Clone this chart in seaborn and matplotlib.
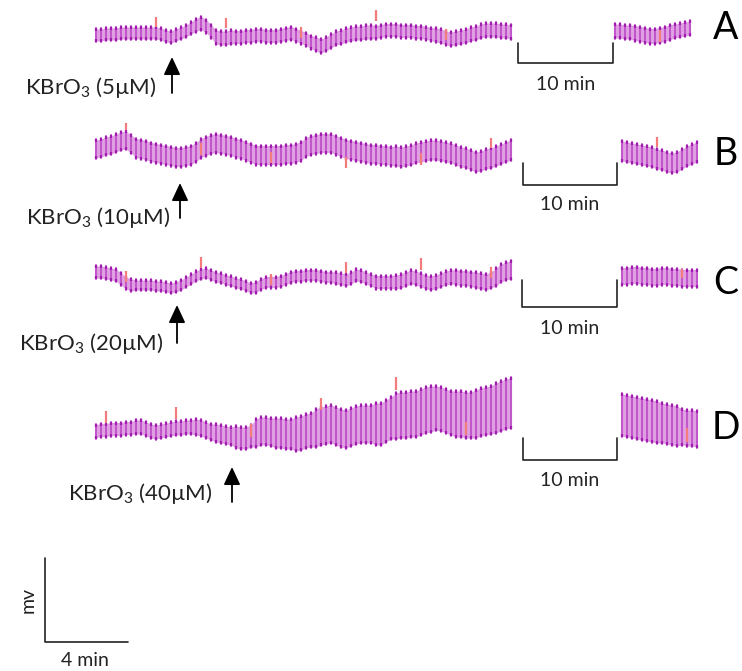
import numpy as np
import pandas as pd
import seaborn as sns
import matplotlib.pyplot as plt

# --- Readings ---
# one value per contraction (about 5 px apart), midline offset from the panel baseline, up = positive
panels = ["A", "B", "C", "D"]
doses = ["5µM", "10µM", "20µM", "40µM"]

a_main = [-1, -1, 0, 0, 0, 1, 1, 1, 1, 1, 1, 1,
          1, 0, -2, -3, -1, 1, 3, 6, 9, 11, 8, 3,
          -3, -4, -4, -3, -3, -3, -2, -2, -1, -1, -2, -2,
          -2, -1, 0, 1, -1, -3, -5, -8, -10, -12, -10, -7,
          -4, -3, -1, 0, 1, 1, 2, 2, 2, 3, 4, 4,
          4, 3, 3, 3, 2, 2, 1, 0, -1, -2, -4, -5,
          -4, -3, -2, 0, 1, 3, 4, 4, 4, 3, 3, 2]
a_after = [3, 3, 2, 2, 1, 0, -1, -2, -2, -1, 0, 2, 3, 4, 5, 6]

b_main = [1, 2, 4, 5, 7, 9, 10, 6, 2, 1, 0, -2,
          -3, -4, -5, -6, -7, -7, -6, -5, -2, 2, 4, 6,
          7, 6, 5, 4, 2, 1, -1, -3, -5, -5, -5, -5,
          -5, -5, -4, -4, -3, -1, 3, 5, 6, 7, 7, 7,
          5, 3, 1, 0, -1, -2, -3, -4, -4, -5, -5, -6,
          -6, -7, -6, -5, -3, -2, -1, 0, 0, -1, -2, -3,
          -5, -7, -8, -10, -12, -11, -9, -8, -6, -4, -2, 0]
b_after = [-1, -2, -3, -4, -5, -6, -7, -9, -10, -12, -13, -12, -9, -6, -4, -2]

c_main = [0, 0, -1, -2, -3, -7, -11, -13, -13, -13, -13, -13,
          -14, -14, -15, -16, -15, -13, -10, -7, -4, -2, -1, -3,
          -5, -6, -8, -9, -11, -12, -14, -16, -15, -12, -10, -10,
          -10, -9, -7, -5, -4, -4, -3, -3, -3, -4, -5, -5,
          -6, -7, -8, -6, -3, -4, -6, -8, -10, -10, -10, -10,
          -10, -9, -7, -5, -6, -8, -10, -11, -10, -8, -6, -5,
          -5, -6, -6, -7, -8, -9, -10, -8, -5, -1, 1, 2]
c_after = [-4, -4, -3, -3, -4, -4, -5, -5, -4, -4, -5, -5, -6, -6, -6, -6]

d_main = [-6, -5, -5, -4, -4, -4, -3, -3, -2, -2, -4, -6,
          -7, -6, -5, -4, -3, -3, -2, -2, -2, -3, -5, -7,
          -8, -9, -10, -11, -12, -13, -13, -11, -8, -6, -6, -7,
          -8, -8, -9, -9, -9, -8, -6, -5, -3, -1, 0, 1,
          -1, -3, -4, -2, 0, 1, 1, 1, 1, 1, 4, 7,
          9, 10, 10, 11, 11, 13, 15, 16, 17, 16, 14, 12,
          11, 11, 10, 10, 11, 13, 14, 15, 17, 19, 21, 22]
d_after = [10, 9, 8, 7, 6, 5, 4, 3, 2, 1, 0, -1, -2, -3, -3, -4]

# half amplitude of the contractions, one value per block of 4 contractions
a_amp = [7, 7, 7, 7, 7, 7.5, 8, 7.5, 7.5, 7.5, 7.5, 8, 8, 8, 7.5, 7.5, 7.5, 8, 8, 8, 8]
a_amp_after = [8, 8.5, 8.5, 8]
b_amp = [10, 10, 10.5, 10.5, 10.5, 10.5, 10.5, 10.5, 10.5, 10.5, 10.5,
         10.5, 10.5, 10.5, 10.5, 11, 11, 11, 11, 11, 11]
b_amp_after = [11, 11, 11, 11]
c_amp = [7, 7, 6, 6, 6, 6, 6, 6, 6.5, 6.5, 6.5, 6.5, 7, 7, 7.5, 8, 8, 8, 8.5, 9, 10]
c_amp_after = [9.5, 9.5, 9.5, 9.5]
d_amp = [7.5, 7.5, 8, 8, 8, 9, 10, 12, 15, 16, 18, 20, 20, 20, 22, 24, 24, 23, 24, 25, 26]
d_amp_after = [22, 22, 21, 19]

# event marks (red ticks): contraction index, top, bottom
a_marks = [(12, 17, 7), (26, 16, 6), (41, 7, -4), (56, 24, 13), (70, 5, -6)]
a_marks_after = [(9, 4, -8)]
b_marks = [(6, 27, 20), (21, 7, -5), (35, -2, -13), (50, -7, -18), (65, -3, -15), (79, 12, 2)]
b_marks_after = [(7, 13, 3)]
c_marks = [(6, 1, -10), (21, 15, 4), (35, -2, -13), (50, 10, -1), (65, 14, 2), (79, 5, -6)]
c_marks_after = [(12, 3, -6)]
d_marks = [(2, 14, 2), (16, 18, 6), (31, 1, -12), (45, 27, 15), (60, 48, 35), (74, 3, -10)]
d_marks_after = [(13, -3, -17)]

traces = [
    (a_main, a_amp, a_marks, a_after, a_amp_after, a_marks_after),
    (b_main, b_amp, b_marks, b_after, b_amp_after, b_marks_after),
    (c_main, c_amp, c_marks, c_after, c_amp_after, c_marks_after),
    (d_main, d_amp, d_marks, d_after, d_amp_after, d_marks_after),
]

# --- Layout (pixels of the original figure) ---
PX_PER_MIN = 20.75          # the 4 min bar is ~83 px long
BEAT = 5 / PX_PER_MIN       # one contraction every ~0.24 min
X0 = 96
baseline_px = [34, 150, 272, 425]
after_px = [615, 622, 622, 622]
letter_y = [28, 154, 283, 428]
brackets = [(518, 613, 43, 63, 85), (523, 617, 163, 185, 205),
            (522, 617, 280, 307, 328), (523, 617, 438, 460, 480)]
arrows = [(172, 57, 93, 157, 88), (180, 183, 218, 170, 218),
          (177, 305, 343, 163, 343), (232, 467, 502, 212, 493)]

FILL = "#e0a2e3"
LINE = "#c257cb"
TIP = "#a01db0"
MARK = "#f47c7c"
INK = "#222222"


def P(x, y):
    # pixel position -> data coordinates (minutes, mv units)
    return (x - X0) / PX_PER_MIN, -y


def draw_segment(ax, t0, mid, amp, marks, base):
    mid = np.asarray(mid, float)
    amp = np.repeat(amp, 4)[:len(mid)]
    t = t0 + np.arange(len(mid)) * BEAT
    lo = base + mid - amp
    hi = base + mid + amp
    ax.fill_between(t, lo + 1, hi - 1, color=FILL, lw=0, zorder=1)
    # one vertical stroke per contraction
    strokes = pd.DataFrame({
        "beat": np.repeat(np.arange(len(t)), 2),
        "t": np.repeat(t, 2),
        "mv": np.column_stack([lo, hi]).ravel(),
    })
    sns.lineplot(data=strokes, x="t", y="mv", units="beat", estimator=None,
                 color=LINE, lw=1.5, ax=ax, zorder=2)
    ax.vlines(t, hi - 3, hi, color=TIP, lw=1.6, zorder=3)
    ax.vlines(t, lo, lo + 3, color=TIP, lw=1.6, zorder=3)
    for idx, top, bot in marks:
        ax.vlines(t0 + idx * BEAT, base + bot, base + top, color=MARK, lw=1.6, zorder=4)


sns.set_theme(style="white")
plt.rcParams["font.family"] = ["Lato", "DejaVu Sans"]
plt.rcParams["mathtext.fontset"] = "custom"
plt.rcParams["mathtext.rm"] = "Lato"

fig = plt.figure(figsize=(7.42, 6.71), dpi=100)
ax = fig.add_axes([0, 0, 1, 1])
ax.set_xlim(P(0, 0)[0], P(742, 0)[0])
ax.set_ylim(-671, 0)
ax.axis("off")

for k, (main, amp, marks, after, amp_after, marks_after) in enumerate(traces):
    base = -baseline_px[k]
    draw_segment(ax, 0.0, main, amp, marks, base)
    draw_segment(ax, P(after_px[k], 0)[0], after, amp_after, marks_after, base)

    # panel letter
    ax.text(*P(726, letter_y[k]), panels[k], fontsize=27, color="black",
            ha="center", va="center")

    # 10 min break bracket
    l, r, top, bot, ly = brackets[k]
    bx, by = zip(*[P(l, top), P(l, bot), P(r, bot), P(r, top)])
    ax.plot(bx, by, color=INK, lw=1.2)
    ax.text(*P((l + r) / 2, ly), "10 min", fontsize=14, color=INK, ha="center", va="center")

    # KBrO3 application
    axp, tip, tail, tx, ty = arrows[k]
    ax.annotate("", xy=P(axp, tip), xytext=P(axp, tail),
                arrowprops=dict(arrowstyle="-|>,head_length=0.9,head_width=0.42",
                                mutation_scale=12, color="black", lw=1.3,
                                shrinkA=0, shrinkB=0))
    ax.text(*P(tx, ty), r"KBrO$_\mathrm{3}$ (" + doses[k] + ")", fontsize=16,
            color=INK, ha="right", va="center")

# calibration bars
cx, cy = zip(*[P(45, 558), P(45, 642), P(128, 642)])
ax.plot(cx, cy, color=INK, lw=1.2)
ax.text(*P(28, 600), "mv", fontsize=14, color=INK, rotation=90, ha="center", va="center")
ax.text(*P(85, 660), "4 min", fontsize=14, color=INK, ha="center", va="center")

fig.savefig("out.png", dpi=100)
